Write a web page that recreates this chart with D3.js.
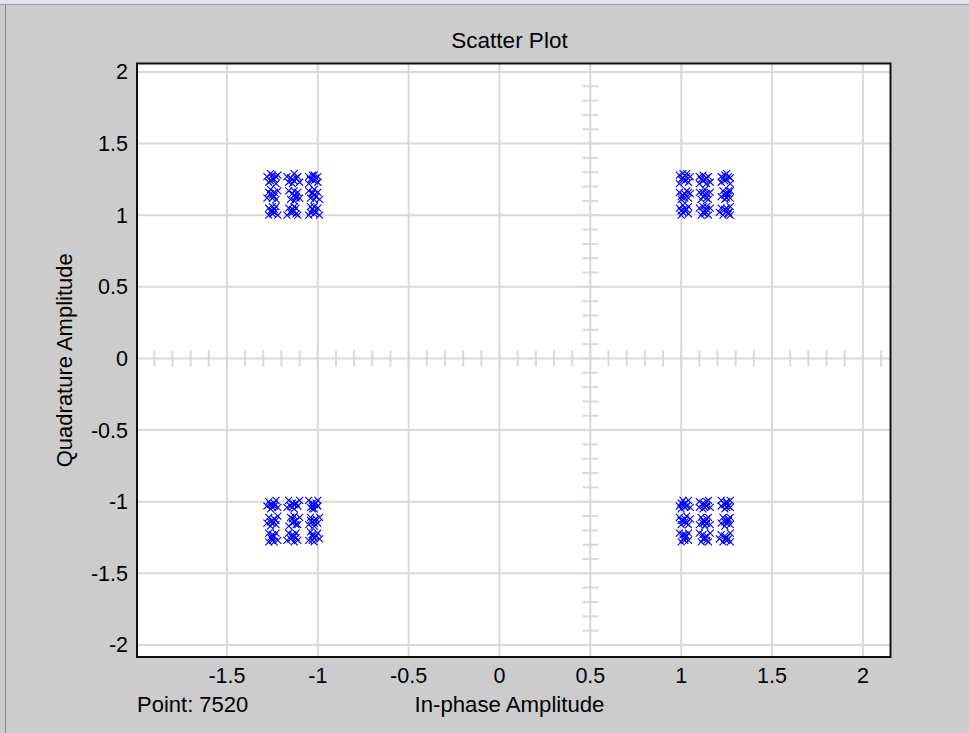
<!DOCTYPE html>
<html>
<head>
<meta charset="utf-8">
<script src="https://cdn.jsdelivr.net/npm/d3@7/dist/d3.min.js"></script>
<style>
  html, body { margin: 0; padding: 0; background: #cccccc; }
  svg { display: block; }
  text { font-family: "Liberation Sans", Arial, sans-serif; fill: #000; }
</style>
</head>
<body>
<svg id="chart" width="969" height="733"></svg>
<script>
// ---- Data ----
const title = "Scatter Plot";
const xLabel = "In-phase Amplitude";
const yLabel = "Quadrature Amplitude";
const pointLabel = "Point: 7520";

const xTicks = [-1.5, -1, -0.5, 0, 0.5, 1, 1.5, 2];
const yTicks = [-2, -1.5, -1, -0.5, 0, 0.5, 1, 1.5, 2];
const xDomain = [-1.995, 2.152];
const yDomain = [-2.084, 2.059];

// Quadrant clusters: [in-phase, quadrature]
const clusterTopRight = [
  [1.01,1.26],[1.04,1.23],[0.99,1.28],[1.03,1.29],[0.99,1.22],[1.05,1.27],
  [1.02,1.24],[1.00,1.25],[1.03,1.27],[1.01,1.29],
  [1.13,1.25],[1.10,1.27],[1.16,1.23],[1.12,1.28],[1.15,1.27],[1.10,1.22],
  [1.14,1.26],[1.12,1.24],[1.14,1.22],[1.11,1.25],
  [1.25,1.25],[1.22,1.27],[1.27,1.22],[1.24,1.28],[1.27,1.26],[1.22,1.23],
  [1.24,1.24],[1.26,1.27],[1.25,1.29],[1.23,1.26],
  [1.01,1.14],[0.99,1.16],[1.04,1.12],[1.00,1.11],[1.03,1.17],[1.05,1.15],
  [1.02,1.15],[1.00,1.13],[1.02,1.12],[1.04,1.16],
  [1.13,1.14],[1.11,1.11],[1.16,1.16],[1.10,1.16],[1.15,1.11],[1.13,1.18],
  [1.12,1.13],[1.14,1.15],[1.12,1.16],[1.14,1.12],
  [1.25,1.15],[1.22,1.13],[1.27,1.17],[1.23,1.17],[1.27,1.12],[1.24,1.11],
  [1.24,1.14],[1.26,1.15],[1.25,1.12],[1.26,1.17],
  [1.02,1.03],[0.99,1.05],[1.04,1.01],[1.00,1.00],[1.04,1.06],[1.01,1.07],
  [1.01,1.02],[1.03,1.04],[1.00,1.03],[1.02,1.05],
  [1.13,1.03],[1.11,1.00],[1.16,1.05],[1.10,1.05],[1.15,1.00],[1.12,1.06],
  [1.12,1.02],[1.14,1.04],[1.13,1.01],[1.14,1.06],
  [1.25,1.03],[1.22,1.05],[1.27,1.00],[1.23,1.00],[1.27,1.06],[1.21,1.02],
  [1.24,1.04],[1.26,1.02],[1.25,1.05],[1.26,1.01]
];
const clusterTopLeft = [
  [-1.25,1.26],[-1.27,1.23],[-1.22,1.28],[-1.26,1.29],[-1.23,1.22],[-1.28,1.27],
  [-1.24,1.25],[-1.26,1.24],[-1.25,1.28],[-1.23,1.27],
  [-1.14,1.25],[-1.11,1.27],[-1.16,1.23],[-1.13,1.29],[-1.10,1.23],[-1.17,1.27],
  [-1.13,1.24],[-1.15,1.26],[-1.12,1.26],[-1.14,1.22],
  [-1.03,1.25],[-1.00,1.27],[-1.05,1.22],[-1.02,1.28],[-1.00,1.23],[-1.05,1.27],
  [-1.02,1.24],[-1.04,1.25],[-1.01,1.26],[-1.03,1.28],
  [-1.25,1.14],[-1.27,1.16],[-1.23,1.11],[-1.28,1.12],[-1.22,1.17],[-1.26,1.18],
  [-1.24,1.13],[-1.26,1.15],[-1.24,1.16],[-1.25,1.12],
  [-1.13,1.14],[-1.15,1.11],[-1.11,1.16],[-1.16,1.17],[-1.10,1.12],[-1.13,1.10],
  [-1.12,1.13],[-1.14,1.15],[-1.13,1.17],[-1.12,1.12],
  [-1.02,1.14],[-1.04,1.12],[-1.00,1.16],[-1.05,1.17],[-0.99,1.11],[-1.02,1.18],
  [-1.03,1.15],[-1.01,1.13],[-1.02,1.11],[-1.03,1.16],
  [-1.25,1.03],[-1.27,1.05],[-1.22,1.00],[-1.23,1.06],[-1.27,1.00],[-1.24,1.02],
  [-1.26,1.03],[-1.24,1.04],[-1.25,1.01],[-1.25,1.06],
  [-1.14,1.02],[-1.16,1.05],[-1.11,1.00],[-1.12,1.05],[-1.17,1.00],[-1.13,1.06],
  [-1.13,1.03],[-1.15,1.02],[-1.14,1.04],[-1.12,1.01],
  [-1.02,1.03],[-1.00,1.05],[-1.05,1.00],[-1.04,1.06],[-0.99,1.00],[-1.02,1.01],
  [-1.03,1.04],[-1.01,1.02],[-1.02,1.06],[-1.04,1.02]
];
const clusterBottomLeft = [
  [-1.25,-1.02],[-1.27,-1.00],[-1.22,-1.04],[-1.26,-1.05],[-1.23,-0.99],[-1.28,-1.03],
  [-1.24,-1.01],[-1.26,-1.02],[-1.25,-1.04],[-1.24,-1.03],
  [-1.14,-1.01],[-1.11,-1.03],[-1.16,-0.99],[-1.13,-1.05],[-1.10,-0.99],[-1.17,-1.04],
  [-1.13,-1.02],[-1.15,-1.03],[-1.12,-1.01],[-1.14,-1.04],
  [-1.03,-1.01],[-1.00,-1.03],[-1.05,-0.99],[-1.02,-1.05],[-1.00,-0.99],[-1.04,-1.04],
  [-1.02,-1.02],[-1.03,-1.03],[-1.01,-1.01],[-1.03,-1.05],
  [-1.25,-1.13],[-1.27,-1.11],[-1.23,-1.16],[-1.28,-1.15],[-1.22,-1.10],[-1.26,-1.17],
  [-1.24,-1.12],[-1.26,-1.14],[-1.25,-1.15],[-1.23,-1.13],
  [-1.13,-1.14],[-1.15,-1.11],[-1.11,-1.16],[-1.16,-1.17],[-1.10,-1.11],[-1.13,-1.10],
  [-1.12,-1.13],[-1.14,-1.15],[-1.14,-1.12],[-1.12,-1.16],
  [-1.02,-1.13],[-1.04,-1.11],[-1.00,-1.15],[-1.05,-1.16],[-0.99,-1.11],[-1.02,-1.17],
  [-1.03,-1.14],[-1.01,-1.12],[-1.02,-1.15],[-1.04,-1.13],
  [-1.25,-1.25],[-1.27,-1.22],[-1.22,-1.27],[-1.23,-1.22],[-1.27,-1.28],[-1.24,-1.28],
  [-1.26,-1.25],[-1.24,-1.24],[-1.25,-1.27],[-1.25,-1.23],
  [-1.14,-1.25],[-1.16,-1.22],[-1.11,-1.27],[-1.12,-1.22],[-1.17,-1.27],[-1.13,-1.28],
  [-1.13,-1.24],[-1.15,-1.26],[-1.12,-1.25],[-1.14,-1.23],
  [-1.03,-1.24],[-1.00,-1.22],[-1.05,-1.27],[-1.04,-1.21],[-0.99,-1.26],[-1.02,-1.28],
  [-1.02,-1.25],[-1.03,-1.23],[-1.01,-1.24],[-1.03,-1.27]
];
const clusterBottomRight = [
  [1.02,-1.01],[0.99,-1.03],[1.04,-0.99],[1.00,-1.05],[1.05,-1.04],[1.01,-0.99],
  [1.01,-1.02],[1.03,-1.03],[1.02,-1.04],[1.00,-1.01],
  [1.13,-1.02],[1.10,-1.00],[1.16,-1.04],[1.12,-1.05],[1.15,-0.99],[1.10,-1.04],
  [1.14,-1.03],[1.12,-1.01],[1.13,-1.04],[1.14,-1.00],
  [1.25,-1.01],[1.22,-1.03],[1.27,-0.99],[1.24,-1.05],[1.27,-1.04],[1.22,-0.99],
  [1.24,-1.02],[1.26,-1.03],[1.25,-1.04],[1.25,-1.00],
  [1.01,-1.13],[0.99,-1.11],[1.04,-1.16],[1.00,-1.16],[1.03,-1.10],[1.05,-1.12],
  [1.02,-1.14],[1.00,-1.13],[1.02,-1.12],[1.03,-1.15],
  [1.13,-1.14],[1.11,-1.11],[1.16,-1.16],[1.10,-1.16],[1.15,-1.11],[1.13,-1.17],
  [1.12,-1.13],[1.14,-1.15],[1.14,-1.12],[1.12,-1.15],
  [1.25,-1.13],[1.22,-1.15],[1.27,-1.11],[1.23,-1.11],[1.27,-1.16],[1.24,-1.17],
  [1.24,-1.14],[1.26,-1.13],[1.25,-1.15],[1.26,-1.12],
  [1.02,-1.25],[0.99,-1.22],[1.04,-1.27],[1.00,-1.28],[1.04,-1.22],[1.01,-1.23],
  [1.01,-1.26],[1.03,-1.24],[1.02,-1.27],[1.02,-1.23],
  [1.13,-1.25],[1.11,-1.28],[1.16,-1.22],[1.10,-1.22],[1.15,-1.28],[1.12,-1.26],
  [1.14,-1.24],[1.12,-1.23],[1.14,-1.27],[1.13,-1.26],
  [1.25,-1.25],[1.22,-1.23],[1.27,-1.28],[1.23,-1.28],[1.27,-1.22],[1.21,-1.26],
  [1.24,-1.24],[1.26,-1.26],[1.25,-1.27],[1.24,-1.26]
];

// crosshair positions (minor tick rulers) in data units
const rulerX = 0.5;   // vertical ruler sits on the x = 0.5 grid line
const rulerY = 0;     // horizontal ruler sits on the y = 0 grid line
const minorXTicks = d3.range(-19, 22).map(d => d / 10);
const minorYTicks = d3.range(-19, 20).map(d => d / 10);

// ---- Layout ----
const svg = d3.select("#chart");
const W = 969, H = 733;
const plot = { left: 137, right: 890.5, top: 63.5, bottom: 657 };

const x = d3.scaleLinear().domain(xDomain).range([plot.left, plot.right]);
const y = d3.scaleLinear().domain(yDomain).range([plot.bottom, plot.top]);

// window chrome
svg.append("rect").attr("x", 0).attr("y", 0).attr("width", W).attr("height", H).attr("fill", "#cccccc");
svg.append("rect").attr("x", 0).attr("y", 0).attr("width", W).attr("height", 4).attr("fill", "#e2e2ee");
svg.append("line").attr("x1", 0).attr("x2", W).attr("y1", 4.5).attr("y2", 4.5).attr("stroke", "#9c9ca8").attr("stroke-width", 1);
svg.append("line").attr("x1", 5.5).attr("x2", 5.5).attr("y1", 5).attr("y2", H).attr("stroke", "#8a8a8a").attr("stroke-width", 1);

// plot background
svg.append("rect")
  .attr("x", plot.left).attr("y", plot.top)
  .attr("width", plot.right - plot.left).attr("height", plot.bottom - plot.top)
  .attr("fill", "#ffffff");

const gridColor = "#d9d9d9";
// grid lines
svg.append("g").selectAll("line").data(xTicks).join("line")
  .attr("x1", d => x(d)).attr("x2", d => x(d))
  .attr("y1", plot.top).attr("y2", plot.bottom)
  .attr("stroke", gridColor).attr("stroke-width", 2);
svg.append("g").selectAll("line").data(yTicks).join("line")
  .attr("y1", d => y(d)).attr("y2", d => y(d))
  .attr("x1", plot.left).attr("x2", plot.right)
  .attr("stroke", gridColor).attr("stroke-width", 2);

// rulers with minor ticks
svg.append("g").selectAll("line").data(minorXTicks).join("line")
  .attr("x1", d => x(d)).attr("x2", d => x(d))
  .attr("y1", y(rulerY) - 8).attr("y2", y(rulerY) + 8)
  .attr("stroke", gridColor).attr("stroke-width", 2);
svg.append("g").selectAll("line").data(minorYTicks).join("line")
  .attr("y1", d => y(d)).attr("y2", d => y(d))
  .attr("x1", x(rulerX) - 8).attr("x2", x(rulerX) + 8)
  .attr("stroke", gridColor).attr("stroke-width", 2);

// scatter markers ('x')
const allPoints = [].concat(clusterTopLeft, clusterTopRight, clusterBottomLeft, clusterBottomRight);
const s = 3.5;
svg.append("g").selectAll("path").data(allPoints).join("path")
  .attr("d", d => {
    const cx = x(d[0]), cy = y(d[1]);
    return `M${cx - s},${cy - s}L${cx + s},${cy + s}M${cx - s},${cy + s}L${cx + s},${cy - s}`;
  })
  .attr("stroke", "#0000ff").attr("stroke-width", 1.1).attr("fill", "none");

// box
svg.append("rect")
  .attr("x", plot.left).attr("y", plot.top)
  .attr("width", plot.right - plot.left).attr("height", plot.bottom - plot.top)
  .attr("fill", "none").attr("stroke", "#111").attr("stroke-width", 2);

// tick labels (plain hyphen-minus, as in the reference)
const fs = 21.5;
svg.append("g").selectAll("text").data(xTicks).join("text")
  .attr("x", d => x(d)).attr("y", 683)
  .attr("text-anchor", "middle").attr("font-size", fs)
  .text(d => String(d));
svg.append("g").selectAll("text").data(yTicks).join("text")
  .attr("x", 128).attr("y", d => y(d) + 7.5)
  .attr("text-anchor", "end").attr("font-size", fs)
  .text(d => String(d));

// titles / labels
svg.append("text").attr("x", 509.5).attr("y", 48).attr("text-anchor", "middle")
  .attr("font-size", 22.5).text(title);
svg.append("text").attr("x", 509.5).attr("y", 712).attr("text-anchor", "middle")
  .attr("font-size", 22.2).text(xLabel);
svg.append("text").attr("x", 137).attr("y", 712).attr("text-anchor", "start")
  .attr("font-size", 22).text(pointLabel);
svg.append("text")
  .attr("transform", `translate(72,${(plot.top + plot.bottom) / 2}) rotate(-90)`)
  .attr("text-anchor", "middle").attr("font-size", 22).text(yLabel);
</script>
</body>
</html>
